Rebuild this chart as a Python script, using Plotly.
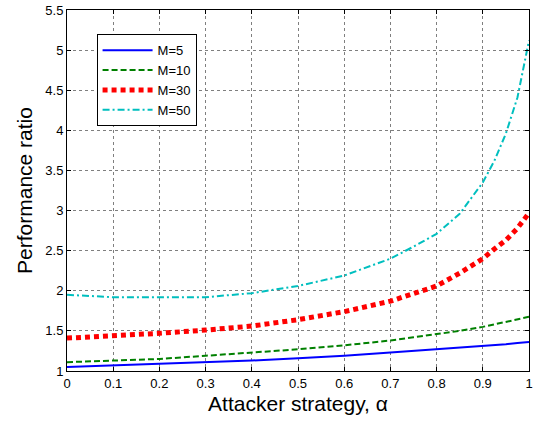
import plotly.graph_objects as go

alpha = [0, 0.1, 0.2, 0.3, 0.4, 0.5, 0.6, 0.7, 0.75, 0.8, 0.85, 0.9, 0.925, 0.95, 0.975, 1.0]
m5 = [1.05, 1.07, 1.09, 1.11, 1.13, 1.16, 1.19, 1.23, 1.25, 1.27, 1.29, 1.31, 1.32, 1.335, 1.35, 1.36]
m10 = [1.11, 1.13, 1.15, 1.19, 1.23, 1.27, 1.32, 1.38, 1.42, 1.46, 1.50, 1.55, 1.58, 1.61, 1.64, 1.675]
m30 = [1.41, 1.435, 1.47, 1.51, 1.56, 1.64, 1.74, 1.87, 1.96, 2.06, 2.22, 2.40, 2.52, 2.63, 2.78, 2.97]
m50 = [1.95, 1.92, 1.92, 1.92, 1.97, 2.06, 2.19, 2.40, 2.55, 2.71, 2.96, 3.35, 3.62, 3.96, 4.41, 5.12]

names = ["M=5", "M=10", "M=30", "M=50"]
xticks = [0, 0.1, 0.2, 0.3, 0.4, 0.5, 0.6, 0.7, 0.8, 0.9, 1]
xticklabels = ["0", "0.1", "0.2", "0.3", "0.4", "0.5", "0.6", "0.7", "0.8", "0.9", "1"]
yticks = [1, 1.5, 2, 2.5, 3, 3.5, 4, 4.5, 5, 5.5]
yticklabels = ["1", "1.5", "2", "2.5", "3", "3.5", "4", "4.5", "5", "5.5"]

styles = [
    dict(color="#0000ff", width=2, dash="solid"),
    dict(color="#008000", width=2, dash="6px,3px"),
    dict(color="#ff0000", width=5, dash="5px,4px"),
    dict(color="#00bfbf", width=2, dash="7px,3px,2px,3px"),
]

fig = go.Figure()
for ys, nm, st in zip([m5, m10, m30, m50], names, styles):
    fig.add_trace(go.Scatter(x=alpha, y=ys, mode="lines", name=nm, line=st))

axis_common = dict(
    showline=True, linecolor="black", linewidth=1, mirror="allticks",
    ticks="inside", ticklen=4, tickcolor="black",
    showgrid=True, gridcolor="#7f7f7f", griddash="dot", gridwidth=1,
    zeroline=False, ticklabeloverflow="allow",
    tickfont=dict(family="Arial, Liberation Sans", size=13, color="black"),
)

fig.update_layout(
    width=534, height=425,
    margin=dict(l=67, r=1, t=10, b=54),
    plot_bgcolor="white", paper_bgcolor="white",
    font=dict(family="Arial, Liberation Sans", color="black"),
    xaxis=dict(range=[0, 1], tickvals=xticks, ticktext=xticklabels,
               title=dict(text="Attacker strategy, α", font=dict(size=21), standoff=6),
               **axis_common),
    yaxis=dict(range=[1, 5.5], tickvals=yticks, ticktext=yticklabels,
               title=dict(text="Performance ratio", font=dict(size=21), standoff=6),
               **axis_common),
    legend=dict(x=0.064, y=0.933, xanchor="left", yanchor="top",
                bgcolor="white", bordercolor="black", borderwidth=1,
                font=dict(size=13), itemwidth=50, tracegroupgap=0),
    showlegend=True,
)

fig.write_html("out.html")
